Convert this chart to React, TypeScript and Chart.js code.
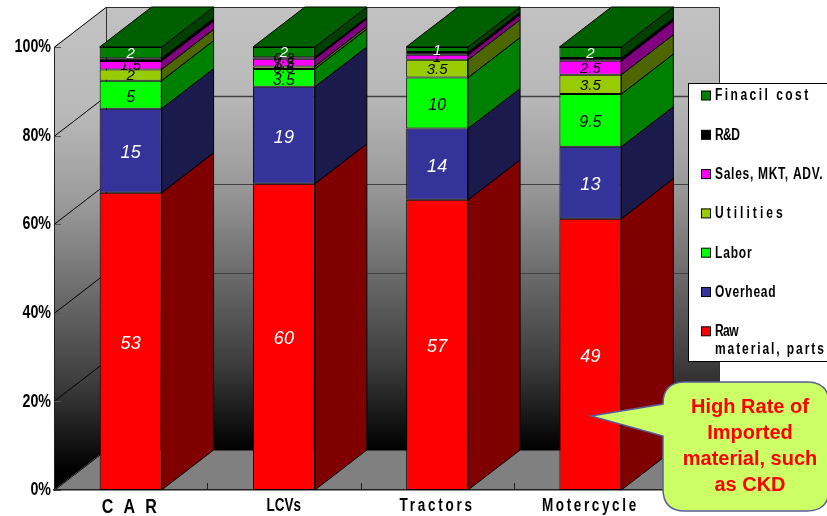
import React, { useEffect, useRef } from "react";
import { Chart, registerables } from "chart.js";

Chart.register(...registerables);

// Cost structure per vehicle type; each column is shown as a share of its own total.
const categories = ["C A R", "LCVs", "Tractors", "Motercycle"];
const rawMaterial = [53, 60, 57, 49];
const overhead = [15, 19, 14, 13];
const labor = [5, 3.5, 10, 9.5];
const utilities = [2, 0.5, 3.5, 3.5];
const salesMkt = [1.5, 1.5, 1, 2.5];
const researchDev = [0.5, 0.3, 0.5, 0.5];
const financial = [2, 2, 1, 2];
const rdShownLabels = [false, true, false, false];
const yTicks = [0, 20, 40, 60, 80, 100];
const calloutLines = ["High Rate of", "Imported", "material, such", "as CKD"];

const SANS = '"Liberation Sans", Arial, sans-serif';
const DEPTH_X = 52;
const DEPTH_Y = 40;
const SQUEEZE = 0.75;

const seriesStyles = [
  { key: "Raw\nmaterial, parts", values: rawMaterial, fill: "#ff0000", side: "#800000", text: "#ffffff", size: 18 },
  { key: "Overhead", values: overhead, fill: "#333399", side: "#1a1a4d", text: "#ffffff", size: 18 },
  { key: "Labor", values: labor, fill: "#00ff00", side: "#008000", text: "#000000", size: 16 },
  { key: "Utilities", values: utilities, fill: "#99cc00", side: "#4d6600", text: "#000000", size: 15 },
  { key: "Sales, MKT, ADV.", values: salesMkt, fill: "#ff00ff", side: "#800080", text: "#000000", size: 15 },
  { key: "R&D", values: researchDev, fill: "#000000", side: "#000000", text: "#000000", size: 15 },
  { key: "Finacil cost", values: financial, fill: "#008000", side: "#004000", text: "#ffffff", size: 15 },
];

// Character spacing of the condensed legend and axis captions.
const captionSpacing: Record<string, number> = {
  "Finacil cost": 3.3,
  "R&D": -0.8,
  "Sales, MKT, ADV.": 0.95,
  Utilities: 4.05,
  Labor: 1.1,
  Overhead: 1,
  Raw: -0.8,
  "material, parts": 2.55,
  "C A R": 3.6,
  LCVs: 0,
  Tractors: 3.7,
  Motercycle: 3.5,
};

const totals = categories.map((_, i) =>
  seriesStyles.reduce((sum, s) => sum + s.values[i], 0)
);

function wallGradient(ctx: CanvasRenderingContext2D, top: number, bottom: number) {
  const g = ctx.createLinearGradient(0, top, 0, bottom);
  g.addColorStop(0, "#c2c2c2");
  g.addColorStop(0.2, "#b8b8b8");
  g.addColorStop(0.4, "#9a9a9a");
  g.addColorStop(0.6, "#6c6c6c");
  g.addColorStop(0.8, "#3e3e3e");
  g.addColorStop(1, "#000000");
  return g;
}

// Draws text squeezed horizontally around its anchor; no condensed face is available.
function condensedFill(
  ctx: CanvasRenderingContext2D,
  fill: (t: string, x: number, y: number) => void,
  text: string,
  x: number,
  y: number
) {
  ctx.save();
  ctx.translate(x, y);
  ctx.scale(text === categories[0] ? 0.8 : SQUEEZE, 1);
  ctx.letterSpacing = `${captionSpacing[text] ?? 0}px`;
  fill.call(ctx, text, 0, 0);
  ctx.restore();
}

const boxPlugin = {
  id: "box3d",
  // Back wall, side wall and floor of the box, positioned from the chart's own scales.
  beforeDraw(chart: any) {
    const { ctx, chartArea: a, scales } = chart;
    ctx.save();
    const y0 = scales.y.getPixelForValue(0);
    const y100 = scales.y.getPixelForValue(100);

    ctx.fillStyle = wallGradient(ctx, y100 - DEPTH_Y, y0 - DEPTH_Y);
    ctx.fillRect(a.left + DEPTH_X, y100 - DEPTH_Y, a.right - a.left, y0 - y100);

    ctx.fillStyle = wallGradient(ctx, y100 - DEPTH_Y / 2, y0 - DEPTH_Y / 2);
    ctx.beginPath();
    ctx.moveTo(a.left, y100);
    ctx.lineTo(a.left + DEPTH_X, y100 - DEPTH_Y);
    ctx.lineTo(a.left + DEPTH_X, y0 - DEPTH_Y);
    ctx.lineTo(a.left, y0);
    ctx.closePath();
    ctx.fill();

    ctx.fillStyle = "#808080";
    ctx.beginPath();
    ctx.moveTo(a.left, y0);
    ctx.lineTo(a.left + DEPTH_X, y0 - DEPTH_Y);
    ctx.lineTo(a.right + DEPTH_X, y0 - DEPTH_Y);
    ctx.lineTo(a.right, y0);
    ctx.closePath();
    ctx.fill();

    // Gridlines run along the side wall and across the back wall.
    for (const v of yTicks) {
      const py = Math.round(scales.y.getPixelForValue(v));
      ctx.strokeStyle = "#000000";
      ctx.lineWidth = 1;
      ctx.beginPath();
      ctx.moveTo(a.left, py + 0.5);
      ctx.lineTo(a.left + DEPTH_X, py - DEPTH_Y + 0.5);
      ctx.stroke();
      ctx.strokeStyle = "#404040";
      ctx.lineWidth = v === 80 ? 1.5 : 1;
      ctx.beginPath();
      ctx.moveTo(a.left + DEPTH_X, py - DEPTH_Y + 0.5);
      ctx.lineTo(a.right + DEPTH_X, py - DEPTH_Y + 0.5);
      ctx.stroke();
      ctx.strokeStyle = "#555555";
      ctx.lineWidth = 1;
      ctx.beginPath();
      ctx.moveTo(a.left, py + 0.5);
      ctx.lineTo(a.left + 7, py + 0.5);
      ctx.stroke();
    }

    ctx.strokeStyle = "#303030";
    ctx.lineWidth = 1;
    ctx.beginPath();
    ctx.moveTo(a.left + DEPTH_X + 0.5, y0 - DEPTH_Y);
    ctx.lineTo(a.left + DEPTH_X + 0.5, y100 - DEPTH_Y + 0.5);
    ctx.lineTo(a.right + DEPTH_X + 0.5, y100 - DEPTH_Y + 0.5);
    ctx.lineTo(a.right + DEPTH_X + 0.5, y0 - DEPTH_Y);
    ctx.stroke();

    // Short category separators rising from the front edge of the floor.
    ctx.strokeStyle = "#202020";
    ctx.beginPath();
    for (let i = 1; i < categories.length; i++) {
      const px = Math.round(scales.x.getPixelForValue(i - 0.5)) + 0.5;
      ctx.moveTo(px, y0);
      ctx.lineTo(px, y0 - 7);
    }
    ctx.stroke();
    ctx.restore();

    // Axis captions are painted between this hook and beforeDatasetsDraw.
    const nativeFill = ctx.fillText;
    ctx.fillText = (t: string, x: number, y: number) => condensedFill(ctx, nativeFill, t, x, y);
  },
  // Side and top faces of each stacked segment, taken from the bar elements.
  beforeDatasetsDraw(chart: any) {
    const { ctx } = chart;
    delete ctx.fillText;
    ctx.save();
    ctx.strokeStyle = "#000000";
    ctx.lineWidth = 1;
    const last = chart.data.datasets.length - 1;
    chart.data.datasets.forEach((_: any, di: number) => {
      chart.getDatasetMeta(di).data.forEach((bar: any) => {
        const right = bar.x + bar.width / 2;
        const left = bar.x - bar.width / 2;
        ctx.fillStyle = seriesStyles[di].side;
        ctx.beginPath();
        ctx.moveTo(right, bar.y);
        ctx.lineTo(right + DEPTH_X, bar.y - DEPTH_Y);
        ctx.lineTo(right + DEPTH_X, bar.base - DEPTH_Y);
        ctx.lineTo(right, bar.base);
        ctx.closePath();
        ctx.fill();
        ctx.stroke();
        if (di === last) {
          ctx.fillStyle = "#006000";
          ctx.beginPath();
          ctx.moveTo(left, bar.y);
          ctx.lineTo(left + DEPTH_X, bar.y - DEPTH_Y);
          ctx.lineTo(right + DEPTH_X, bar.y - DEPTH_Y);
          ctx.lineTo(right, bar.y);
          ctx.closePath();
          ctx.fill();
          ctx.stroke();
        }
      });
    });
    ctx.restore();
  },
  // Value labels centred on each segment's front face.
  afterDatasetsDraw(chart: any) {
    const { ctx } = chart;
    ctx.save();
    ctx.textAlign = "center";
    ctx.textBaseline = "middle";
    seriesStyles.forEach((s, di) => {
      chart.getDatasetMeta(di).data.forEach((bar: any, i: number) => {
        if (s.values === researchDev && !rdShownLabels[i]) return;
        ctx.font = `italic ${s.size}px ${SANS}`;
        ctx.fillStyle = s.text;
        const nudge = s.size >= 16 ? 2.5 : 1;
        ctx.fillText(String(s.values[i]), bar.x, (bar.y + bar.base) / 2 + nudge);
      });
    });
    ctx.restore();
  },
  afterDraw(chart: any) {
    const { ctx, width } = chart;
    const nativeFill = ctx.fillText;
    ctx.save();

    // Legend panel, top layer of the stack first.
    ctx.fillStyle = "#ffffff";
    ctx.fillRect(688.5, 83.5, width, 278);
    ctx.strokeStyle = "#000000";
    ctx.lineWidth = 1;
    ctx.strokeRect(688.5, 83.5, width, 278);
    ctx.textAlign = "left";
    ctx.textBaseline = "middle";
    ctx.font = `bold 16px ${SANS}`;
    [...seriesStyles].reverse().forEach((s, i) => {
      const cy = 96 + i * 39.3;
      ctx.fillStyle = s.fill;
      ctx.fillRect(701.5, cy - 5, 9, 9);
      ctx.strokeStyle = "#000000";
      ctx.strokeRect(701.5, cy - 5, 9, 9);
      ctx.fillStyle = "#000000";
      s.key.split("\n").forEach((line, li) => {
        condensedFill(ctx, nativeFill, line, 715, cy + li * 18);
      });
    });

    // Callout pointing at the raw-material segment.
    ctx.beginPath();
    const l = 663, t = 382, r = width + 2, b = 511, rad = 22;
    ctx.moveTo(l + rad, t);
    ctx.lineTo(r - rad, t);
    ctx.quadraticCurveTo(r, t, r, t + rad);
    ctx.lineTo(r, b - rad);
    ctx.quadraticCurveTo(r, b, r - rad, b);
    ctx.lineTo(l + rad, b);
    ctx.quadraticCurveTo(l, b, l, b - rad);
    ctx.lineTo(l, 436);
    ctx.lineTo(591, 416);
    ctx.lineTo(l, 404);
    ctx.lineTo(l, t + rad);
    ctx.quadraticCurveTo(l, t, l + rad, t);
    ctx.closePath();
    ctx.fillStyle = "#ccff66";
    ctx.fill();
    ctx.strokeStyle = "#5b5b9b";
    ctx.lineWidth = 1.5;
    ctx.stroke();

    ctx.fillStyle = "#ff0000";
    ctx.textAlign = "center";
    ctx.font = `bold 20px ${SANS}`;
    calloutLines.forEach((line, i) => {
      ctx.fillText(line, 750, 407.5 + i * 26);
    });
    ctx.restore();
  },
};

export default function App() {
  const canvasRef = useRef<HTMLCanvasElement | null>(null);

  useEffect(() => {
    const chart = new Chart(canvasRef.current as HTMLCanvasElement, {
      type: "bar",
      data: {
        labels: categories,
        datasets: seriesStyles.map((s) => ({
          label: s.key,
          data: s.values.map((v, i) => (v / totals[i]) * 100),
          backgroundColor: s.fill,
          borderColor: "#000000",
          borderWidth: 1,
          borderSkipped: false,
          barPercentage: 0.404,
          categoryPercentage: 1,
        })),
      },
      options: {
        responsive: false,
        animation: false,
        events: [],
        layout: { padding: { top: 47, right: 160, left: 0, bottom: 0 } },
        plugins: { legend: { display: false }, tooltip: { enabled: false } },
        scales: {
          x: {
            stacked: true,
            afterFit: (s: any) => { s.height = 26; },
            grid: { display: false, drawTicks: false },
            border: { display: true, color: "#202020", width: 1.5 },
            ticks: {
              color: "#000000",
              padding: 5,
              maxRotation: 0,
              autoSkip: false,
              font: (c: any) => ({ family: SANS, weight: "bold", size: c.index === 0 ? 20 : 18 }),
            },
          },
          y: {
            stacked: true,
            min: 0,
            max: 100,
            afterFit: (s: any) => { s.width = 54; },
            grid: { display: false, drawTicks: false },
            border: { display: true, color: "#202020", width: 1 },
            ticks: {
              color: "#000000",
              padding: 3,
              stepSize: 20,
              callback: (v: any) => `${v}%`,
              font: { family: SANS, weight: "bold", size: 19 },
            },
          },
        },
      },
      plugins: [boxPlugin],
    } as any);
    return () => chart.destroy();
  }, []);

  return (
    <div style={{ position: "fixed", left: 0, top: 0, width: 827, height: 516, background: "#ffffff" }}>
      <canvas ref={canvasRef} width={827} height={516} style={{ display: "block" }} />
    </div>
  );
}
